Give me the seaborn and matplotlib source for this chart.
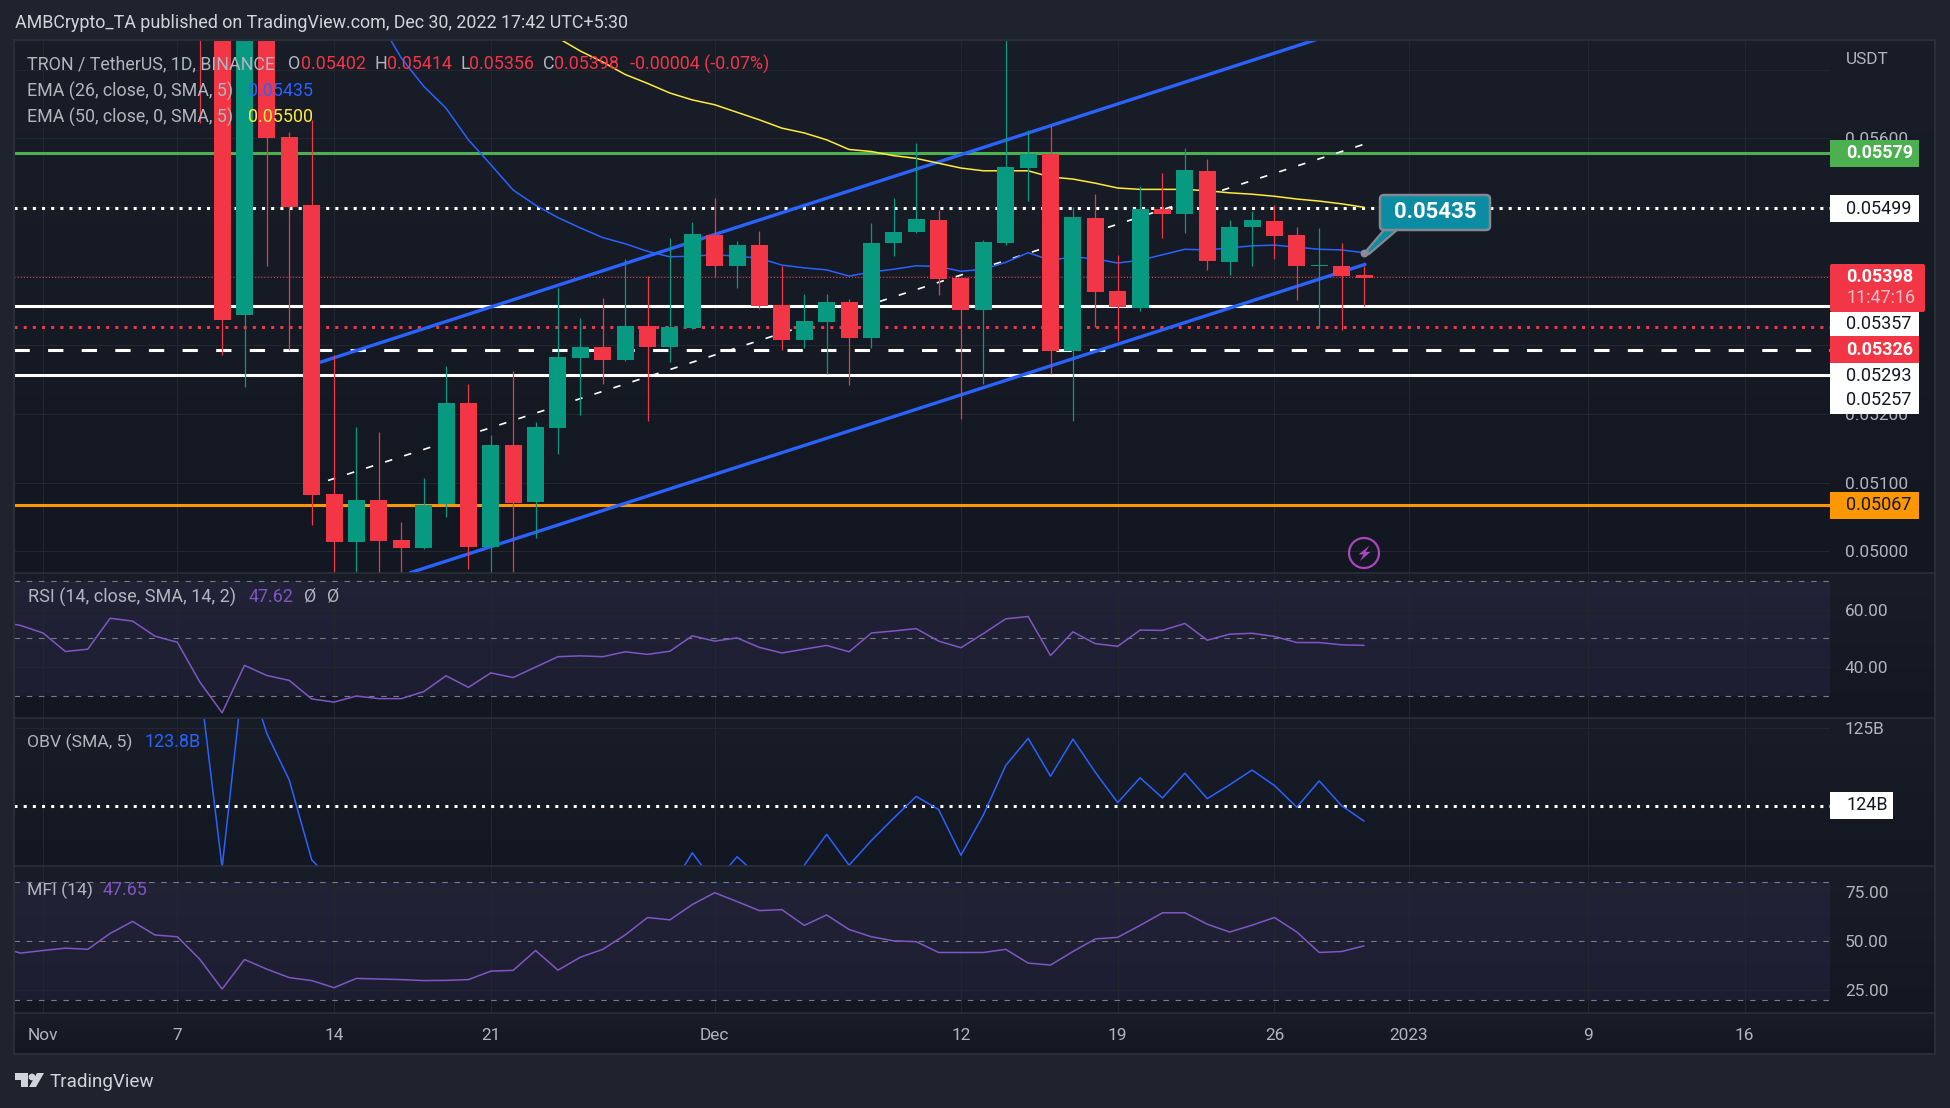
import matplotlib
matplotlib.use("Agg")
import matplotlib.pyplot as plt
import numpy as np
import seaborn as sns
from matplotlib.patches import Circle, FancyBboxPatch, Polygon, Rectangle

W, H = 1950, 1108

# all prices below are in 1e-5 USDT
candle_days = list(range(7, 60))
open_px = [5787, 5797, 5343, 5797, 5602, 5503, 5084, 5013, 5075, 5016, 5005, 5069, 5215, 5007, 5155, 5072, 5179, 5281,
           5297, 5278, 5327, 5297, 5324, 5460, 5414, 5445, 5358, 5307, 5333, 5362, 5310, 5448, 5464, 5482, 5397, 5351,
           5448, 5557, 5578, 5291, 5485, 5378, 5354, 5497, 5490, 5553, 5420, 5471, 5480, 5460, 5414, 5415, 5401]
close_px = [5749, 5336, 5797, 5600, 5500, 5082, 5013, 5075, 5015, 5005, 5067, 5215, 5007, 5155, 5070, 5181, 5283, 5297,
            5278, 5327, 5297, 5326, 5461, 5414, 5445, 5357, 5307, 5335, 5363, 5310, 5448, 5464, 5483, 5396, 5351, 5450,
            5559, 5578, 5291, 5486, 5377, 5355, 5497, 5490, 5554, 5422, 5472, 5482, 5458, 5414, 5416, 5400, 5397]
high_px = [5797, 5806, 5806, 5806, 5609, 5627, 5286, 5181, 5174, 5043, 5106, 5269, 5243, 5169, 5262, 5188, 5382, 5339,
           5368, 5425, 5400, 5456, 5478, 5513, 5451, 5466, 5415, 5374, 5374, 5367, 5477, 5513, 5593, 5496, 5397, 5453,
           5749, 5612, 5619, 5500, 5519, 5431, 5531, 5550, 5586, 5570, 5482, 5494, 5503, 5471, 5470, 5448, 5415]
low_px = [5622, 5286, 5239, 5415, 5292, 5038, 4962, 4962, 4962, 4962, 5004, 5050, 4974, 4962, 4962, 5020, 5141, 5198,
          5243, 5277, 5190, 5275, 5323, 5398, 5382, 5352, 5292, 5295, 5258, 5242, 5295, 5429, 5463, 5373, 5193, 5243,
          5445, 5509, 5258, 5190, 5326, 5305, 5349, 5455, 5463, 5409, 5401, 5415, 5425, 5365, 5324, 5322, 5357]

ema26_days = list(range(15, 60))
ema26 = [5772, 5717, 5676, 5644, 5598, 5562, 5525, 5503, 5485, 5470, 5456, 5447, 5436, 5428, 5429, 5431, 5429, 5426,
         5416, 5412, 5409, 5400, 5406, 5410, 5415, 5414, 5407, 5410, 5420, 5434, 5423, 5428, 5425, 5419, 5423, 5431,
         5439, 5438, 5441, 5444, 5445, 5442, 5439, 5438, 5434]
ema50_days = list(range(22, 60))
ema50 = [5765, 5746, 5727, 5711, 5693, 5680, 5666, 5656, 5649, 5638, 5627, 5615, 5608, 5598, 5584, 5581, 5575, 5571,
         5564, 5557, 5553, 5553, 5553, 5544, 5541, 5535, 5528, 5526, 5526, 5526, 5524, 5521, 5519, 5516, 5512, 5509,
         5505, 5500]

# drawn trend lines: (day, price) ends
upper_days, upper_px = [12.4, 57.0], [5275, 5745]
lower_days, lower_px = [16.4, 59.04], [4969, 5417]
mid_days, mid_px = [12.73, 59.04], [5103, 5592]

rsi_days = list(range(-2, 60))
rsi = [55.9, 54.5, 51.9, 45.5, 46.3, 57.0, 56.0, 50.8, 48.7, 35.0, 24.3, 40.7, 37.2, 35.5, 29.1, 28.0, 30.1, 29.2, 29.2,
       31.6, 37.1, 33.1, 38.1, 36.5, 40.1, 43.7, 44.0, 43.7, 45.4, 44.5, 45.6, 50.9, 49.1, 50.2, 46.9, 45.0, 46.3, 47.6,
       45.4, 51.9, 52.6, 53.4, 49.1, 46.8, 51.7, 56.8, 57.6, 44.1, 52.3, 48.2, 47.3, 52.9, 52.8, 55.2, 49.4, 51.5, 51.8,
       50.7, 48.6, 48.6, 47.8, 47.62]

obv_days = list(range(7, 60))
obv = [125.6, 123.2, 125.83, 124.93, 124.33, 123.3, 123.0, 122.95, 122.9, 122.9, 122.85, 122.9, 122.9, 122.85, 122.9,
       122.9, 122.85, 122.9, 122.9, 122.9, 122.85, 122.92, 123.39, 123.0, 123.34, 123.08, 122.9, 123.23, 123.63, 123.23,
       123.55, 123.84, 124.12, 123.95, 123.36, 123.88, 124.52, 124.87, 124.38, 124.86, 124.43, 124.04, 124.36, 124.1,
       124.42, 124.09, 124.27, 124.46, 124.26, 123.98, 124.32, 124.0, 123.8]

mfi_days = list(range(-2, 60))
mfi = [47.0, 44.0, 45.3, 46.5, 45.9, 54.0, 60.1, 53.2, 52.3, 40.9, 25.7, 40.7, 35.8, 31.5, 30.0, 26.4, 31.1, 30.8, 30.5,
       30.0, 30.1, 30.5, 34.8, 35.2, 45.3, 35.3, 41.9, 45.9, 53.2, 62.1, 60.9, 68.7, 74.7, 70.2, 65.6, 66.1, 58.1, 63.4,
       56.0, 52.3, 50.2, 49.8, 44.3, 44.3, 44.3, 45.9, 38.9, 37.9, 44.8, 51.2, 52.0, 58.1, 64.5, 64.5, 58.7, 54.7, 58.2,
       62.1, 54.7, 44.3, 44.8, 47.65]

# days since 1 Nov 2022
tick_days = [0, 6, 13, 20, 30, 41, 48, 55, 61, 69, 76]
tick_labels = ["Nov", "7", "14", "21", "Dec", "12", "19", "26", "2023", "9", "16"]
price_ticks = [5000, 5100, 5200, 5300, 5400, 5500, 5600, 5700]
price_tick_labels = ["0.05000", "0.05100", "0.05200", "", "", "", "0.05600", ""]

GREEN = "#089981"
RED = "#f23645"
BLUE = "#2962ff"
YELLOW = "#ffeb3b"
PURPLE = "#7e57c2"
TXT = "#b2b5be"
GRID = "#22262f"
FONT = "Roboto"

sns.set_theme(style="dark")
plt.rcParams["font.family"] = FONT
plt.rcParams["axes.unicode_minus"] = False


def make_axes(x0, y0, x1, y1, z=0):
    return fig.add_axes([x0 / W, 1 - y1 / H, (x1 - x0) / W, (y1 - y0) / H], zorder=z)


def pane_gradient(y0, y1, top="#191d28", bottom="#131722"):
    a = np.array(matplotlib.colors.to_rgb(top))
    b = np.array(matplotlib.colors.to_rgb(bottom))
    t = np.linspace(0, 1, 64)[:, None, None]
    back.imshow(a * (1 - t) + b * t, extent=(14, 1935, y1, y0), aspect="auto", zorder=1)


def style_pane(ax, ylim, yticks, ylabels, size=12.4):
    ax.set_facecolor("none")
    ax.set_xlim((14 - 43) / 22.39, (1830 - 43) / 22.39)
    ax.set_ylim(*ylim)
    ax.set_xticks(tick_days)
    ax.set_xticklabels(tick_labels)
    ax.yaxis.tick_right()
    ax.set_yticks(yticks)
    ax.set_yticklabels(ylabels)
    ax.tick_params(axis="y", length=0, pad=10.8, labelsize=size, labelcolor=TXT)
    ax.tick_params(axis="x", length=0, pad=10.5, labelsize=size, labelcolor=TXT, labelbottom=False)
    ax.grid(True, color=GRID, linewidth=0.8)
    ax.set_axisbelow(True)
    for spine in ax.spines.values():
        spine.set_visible(False)


def draw_line(ax, days, vals, color, lw=1.1, z=4):
    sns.lineplot(x=days, y=vals, ax=ax, color=color, linewidth=lw, estimator=None, zorder=z)
    ax.set_xlabel("")
    ax.set_ylabel("")


def put(x, y, s, color=TXT, size=12.9, **kw):
    over.text(x, y, s, color=color, fontsize=size, va="center", ha=kw.pop("ha", "left"), **kw)


def tag(y0, y1, x1, fc, label, tc, ty=None, bold=False):
    over.add_patch(Rectangle((1830, y0), x1 - 1830, y1 - y0, fc=fc, ec="none"))
    put(1846, (y0 + y1) / 2 if ty is None else ty, label, tc, 13, fontweight="bold" if bold else "normal")


fig = plt.figure(figsize=(W / 100, H / 100), dpi=100, facecolor="#1f232e")

back = make_axes(0, 0, W, H, z=-1)
back.axis("off")
for y0, y1 in [(40, 573), (573, 718), (718, 866), (866, 1013), (1013, 1054)]:
    pane_gradient(y0, y1)
back.set_xlim(0, W)
back.set_ylim(H, 0)

ax_main = make_axes(14, 41, 1830, 573)
ax_rsi = make_axes(14, 574, 1830, 718)
ax_obv = make_axes(14, 719, 1830, 866)
ax_mfi = make_axes(14, 867, 1830, 1013)
over = make_axes(0, 0, W, H, z=10)
over.set_xlim(0, W)
over.set_ylim(H, 0)
over.axis("off")

# price pane
style_pane(ax_main, (4968.6, 5741.6), price_ticks, price_tick_labels)
ax_main.axhline(5579, color="#4caf50", lw=2.2, zorder=2)
ax_main.axhline(5499, color="white", lw=2.2, linestyle=(0, (1, 2)), zorder=2)
ax_main.axhline(5398, color=RED, lw=0.75, linestyle=(0, (1, 2)), zorder=1.5)
ax_main.axhline(5357, color="white", lw=2.2, zorder=2)
ax_main.axhline(5326, color=RED, lw=2.2, linestyle=(0, (1, 2)), zorder=2)
ax_main.axhline(5293, color="white", lw=2.2, linestyle=(0, (5, 6)), zorder=2)
ax_main.axhline(5257, color="white", lw=2.2, zorder=2)
ax_main.axhline(5067, color="#ff9800", lw=2.2, zorder=2)

draw_line(ax_main, upper_days, upper_px, BLUE, lw=2.4, z=3)
draw_line(ax_main, lower_days, lower_px, BLUE, lw=2.4, z=3)
ax_main.plot(mid_days, mid_px, color="white", lw=1.2, linestyle=(0, (4.5, 7.5)), zorder=3)
draw_line(ax_main, ema50_days, ema50, YELLOW)
draw_line(ax_main, ema26_days, ema26, BLUE)

days = np.array(candle_days)
op, cl, hi, lo = [np.array(v, dtype=float) for v in (open_px, close_px, high_px, low_px)]
colors = np.where(cl >= op, GREEN, RED)
ax_main.vlines(days, lo, hi, colors=colors, lw=0.9, zorder=5)
ax_main.bar(days, np.abs(cl - op), bottom=np.minimum(op, cl), width=0.76, color=colors, zorder=6, linewidth=0)
ax_main.scatter([ema26_days[-1]], [ema26[-1]], s=32, color="#8a8d96", zorder=7, linewidths=0)

# RSI
style_pane(ax_rsi, (22.5, 72.3), [40, 60], ["40.00", "60.00"])
ax_rsi.axhspan(30, 70, color=PURPLE, alpha=0.1, lw=0, zorder=0)
for level in (30, 50, 70):
    ax_rsi.axhline(level, color="#787b86", lw=0.8, linestyle=(0, (5, 6)), zorder=1)
draw_line(ax_rsi, rsi_days, rsi, PURPLE)

# OBV
style_pane(ax_obv, (123.22, 125.12), [125], ["125B"])
ax_obv.axhline(124, color="white", lw=2.2, linestyle=(0, (1, 2)), zorder=2)
draw_line(ax_obv, obv_days, obv, BLUE)

# MFI
style_pane(ax_mfi, (13.5, 87.8), [25, 50, 75], ["25.00", "50.00", "75.00"])
ax_mfi.axhspan(20, 80, color=PURPLE, alpha=0.1, lw=0, zorder=0)
for level in (20, 50, 80):
    ax_mfi.axhline(level, color="#787b86", lw=0.8, linestyle=(0, (5, 6)), zorder=1)
draw_line(ax_mfi, mfi_days, mfi, PURPLE)
ax_mfi.tick_params(axis="x", labelbottom=True)

# pane frame and separators
over.add_patch(Rectangle((14, 40), 1921, 1014, fc="none", ec="#2a2e39", lw=1.5))
for y in (573, 718, 866, 1013):
    over.plot([14, 1935], [y, y], color="#2a2e39", lw=1.2)

# header and legends
put(15, 23, "AMBCrypto_TA published on TradingView.com, Dec 30, 2022 17:42 UTC+5:30", "#d1d4dc", 12.85)
put(27, 64, "TRON / TetherUS, 1D, BINANCE")
for x, s in [(288, "O"), (375, "H"), (461, "L"), (543, "C")]:
    put(x, 64, s)
for x, s in [(301, "0.05402"), (387, "0.05414"), (469, "0.05356"), (554, "0.05398"), (630, "-0.00004 (-0.07%)")]:
    put(x, 64, s, RED)
put(27, 91, "EMA (26, close, 0, SMA, 5)")
put(248, 91, "0.05435", BLUE)
put(27, 117, "EMA (50, close, 0, SMA, 5)")
put(248, 117, "0.05500", YELLOW)
put(28, 597, "RSI (14, close, SMA, 14, 2)", size=13)
put(249, 597, "47.62", PURPLE)
put(304, 597, "Ø")
put(327, 597, "Ø")
put(27, 742, "OBV (SMA, 5)", size=12.6)
put(144, 742, "123.8B", BLUE)
put(27, 890, "MFI (14)", size=12.6)
put(103, 890, "47.65", PURPLE)
put(1846, 60, "USDT", size=12.4)

# price tags on the right scale
tag(140, 167, 1919, "#4caf50", "0.05579", "white", bold=True)
tag(195, 222, 1919, "white", "0.05499", "#131722")
over.add_patch(FancyBboxPatch((1830, 264), 95, 48, boxstyle="round,pad=0,rounding_size=2", fc=RED, ec="none"))
put(1846, 277, "0.05398", "white", 13, fontweight="bold")
put(1846, 298, "11:47:16", "#e8c0c5", 13)
tag(312, 336, 1919, "white", "0.05357", "#131722", ty=324)
tag(336, 363, 1919, RED, "0.05326", "white", ty=350, bold=True)
tag(363, 414, 1919, "white", "0.05293", "#131722", ty=376)
put(1846, 400, "0.05257", "#131722", 13)
tag(492, 519, 1919, "#ff9800", "0.05067", "#131722")
tag(792, 819, 1893, "white", "124B", "#131722", ty=805)

# callout on the EMA 26 value
over.add_patch(Polygon([(1367, 250), (1384, 230), (1397, 230), (1369, 254)], fc="#0b8ca3", ec="#85888f", lw=1.6))
over.add_patch(FancyBboxPatch((1380, 195), 110, 35, boxstyle="round,pad=0,rounding_size=4",
                              fc="#0b8ca3", ec="#85888f", lw=1.8))
put(1435, 212, "0.05435", "white", 16, ha="center", fontweight="bold")

# bolt badge
over.add_patch(Circle((1364, 553), 15, fc="none", ec="#ab47bc", lw=1.6))
over.add_patch(Polygon([(1369.5, 545.5), (1358.5, 554.5), (1363.5, 554.5), (1360, 561), (1370.5, 552), (1365.5, 552)],
                       fc="#ab47bc", ec="none"))

# TradingView logo
over.add_patch(Polygon([(15, 1073), (28, 1073), (28, 1087), (21, 1087), (21, 1080), (15, 1080)], fc="#d1d4dc", ec="none"))
over.add_patch(Circle((32, 1077), 3.4, fc="#d1d4dc", ec="none"))
over.add_patch(Polygon([(37, 1073), (44, 1073), (36, 1087), (29, 1087)], fc="#d1d4dc", ec="none"))
put(50, 1082, "TradingView", "#d1d4dc", 13.6)

fig.savefig("out.png", dpi=100, facecolor=fig.get_facecolor())
